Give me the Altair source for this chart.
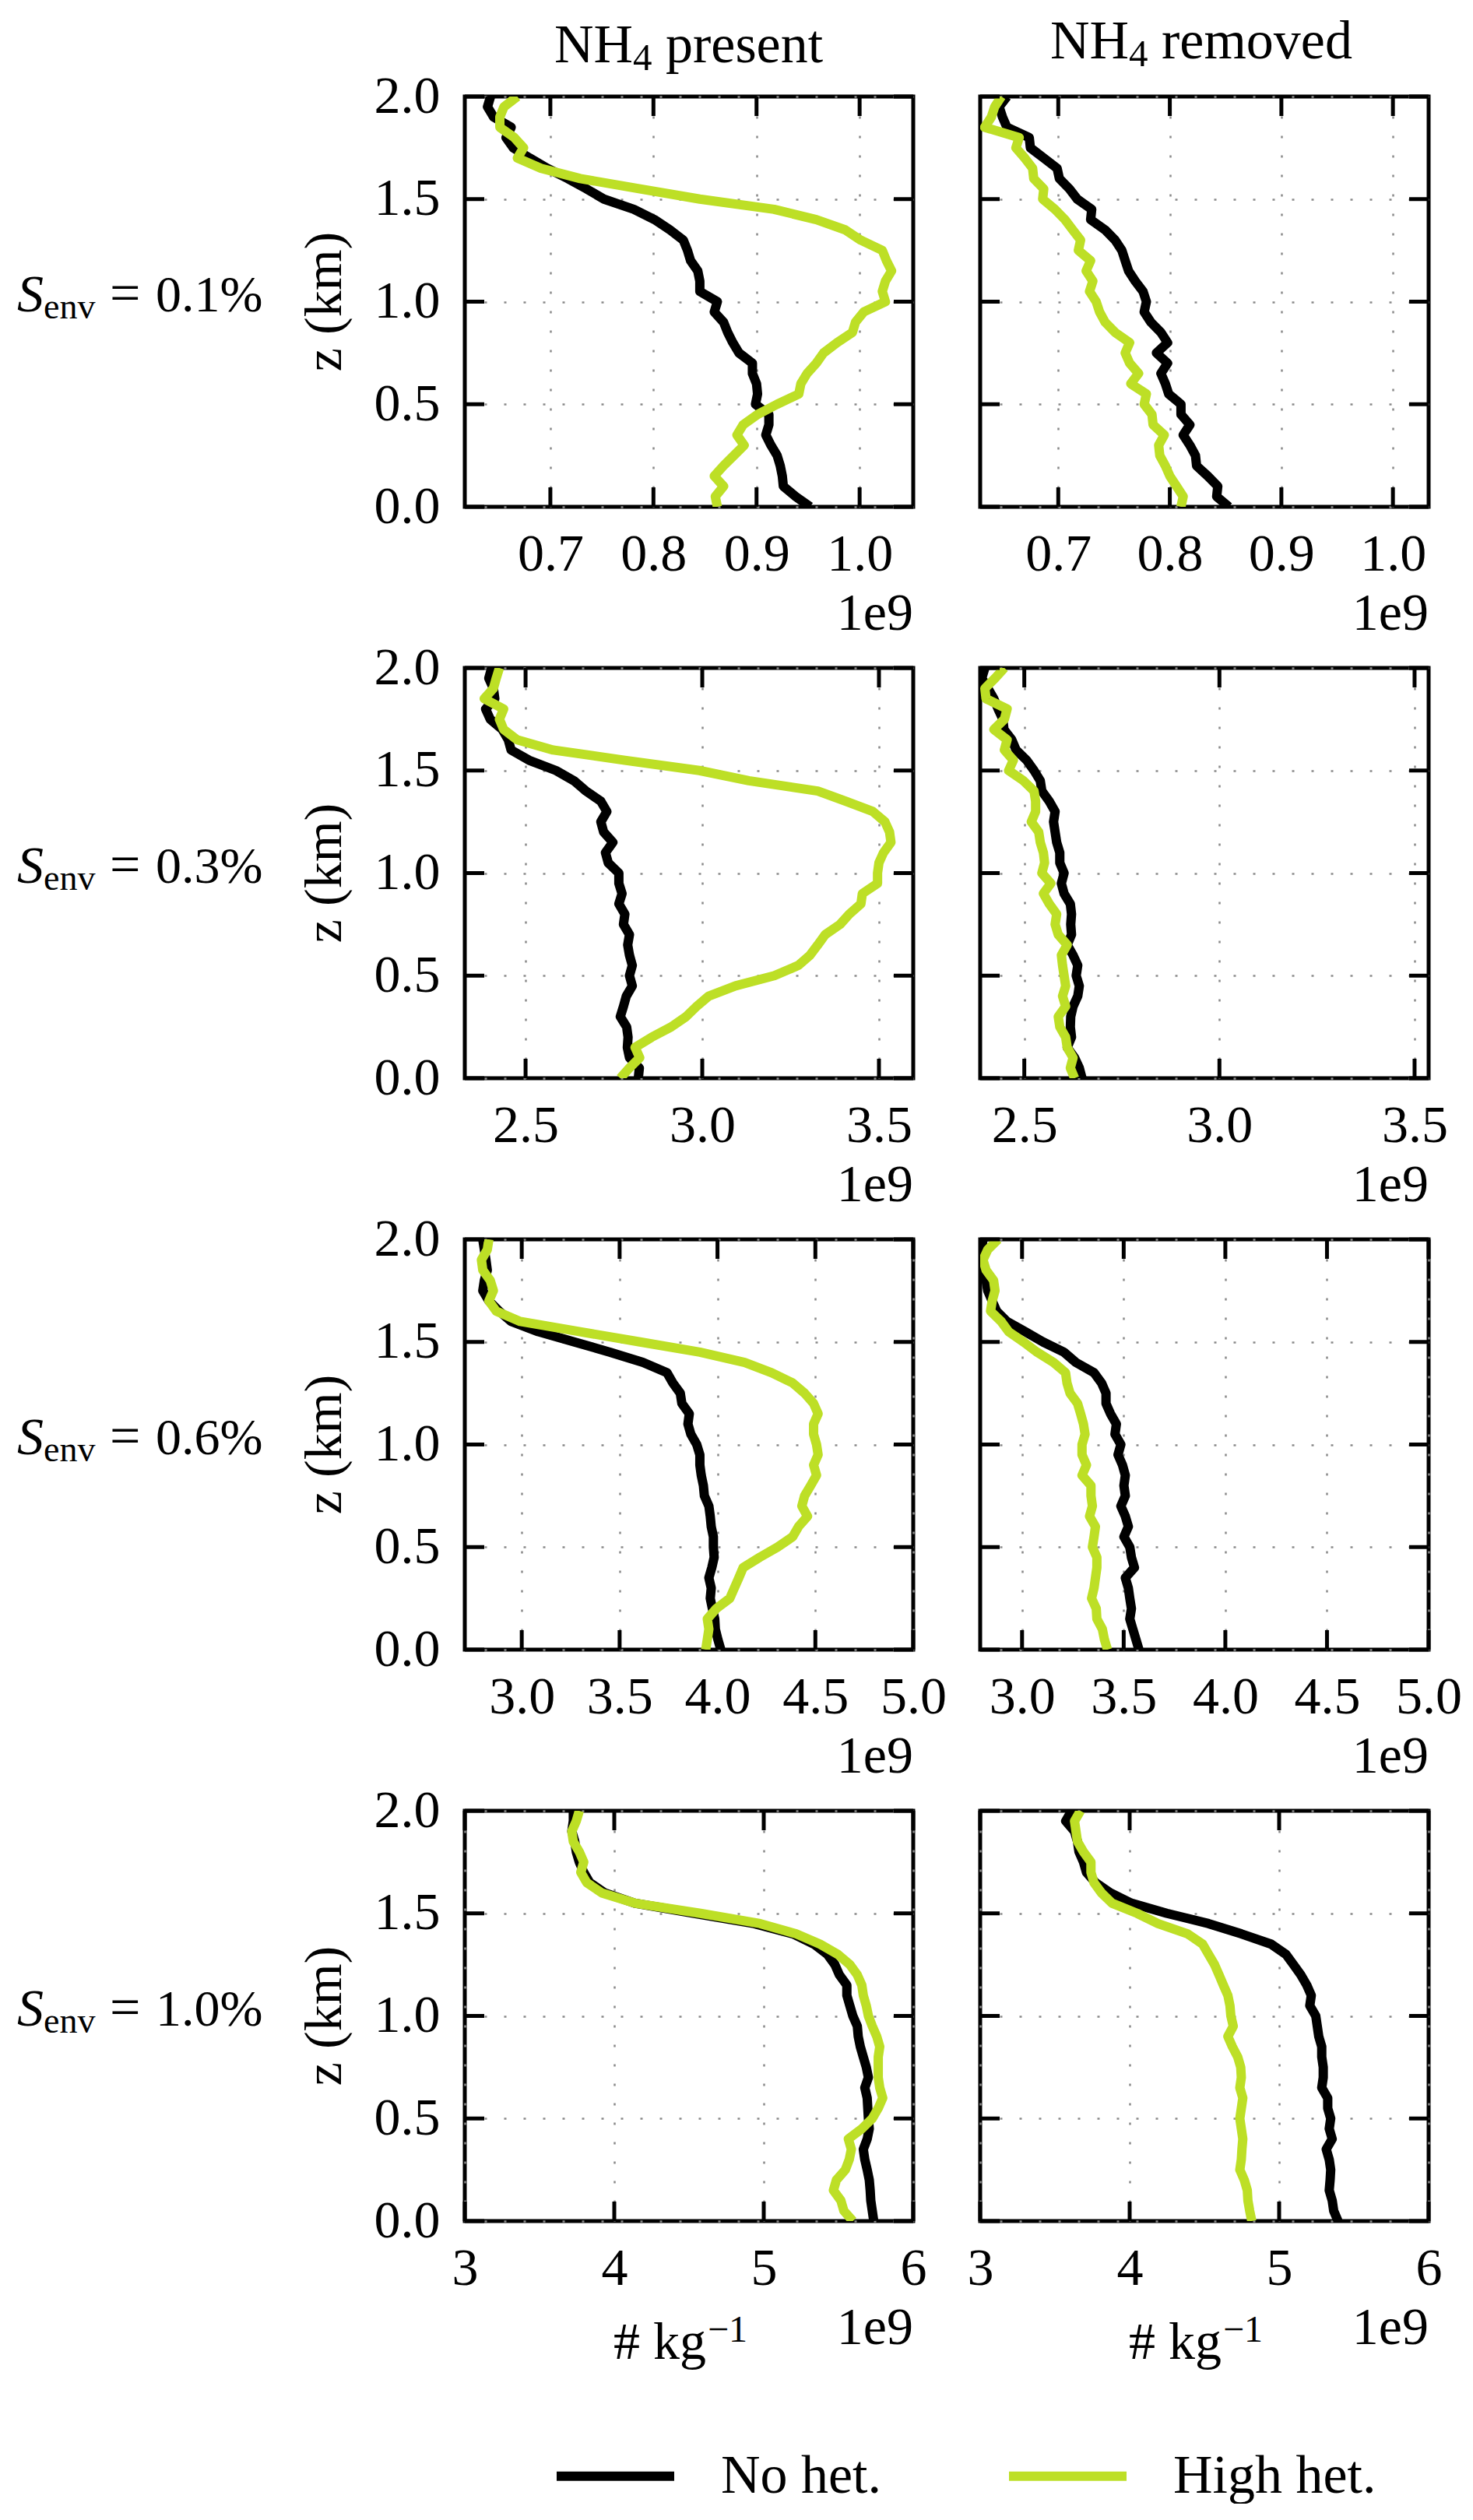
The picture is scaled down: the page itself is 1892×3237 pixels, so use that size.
import altair as alt
import pandas as pd

FONT = "Liberation Serif"
BLACK = "#000000"
GREEN = "#bddf26"
GRID_COLOR = "#8a8a8a"

# model levels (km)
Z = [0.00, 0.05, 0.10, 0.15, 0.20, 0.25, 0.30, 0.35, 0.40, 0.45,
     0.50, 0.55, 0.60, 0.65, 0.70, 0.75, 0.80, 0.85, 0.90, 0.95,
     1.00, 1.05, 1.10, 1.15, 1.20, 1.25, 1.30, 1.35, 1.40, 1.45,
     1.50, 1.55, 1.60, 1.65, 1.70, 1.75, 1.80, 1.85, 1.90, 1.95, 2.00]

# number concentration profiles (units of 1e9 # kg-1), bottom to top
R1P_NO = [0.952, 0.938, 0.926, 0.925, 0.923, 0.920, 0.914, 0.909, 0.912, 0.912,
          0.899, 0.901, 0.900, 0.896, 0.896, 0.883, 0.877, 0.872, 0.868, 0.859,
          0.862, 0.845, 0.845, 0.843, 0.836, 0.833, 0.829, 0.816, 0.801, 0.781,
          0.752, 0.735, 0.717, 0.697, 0.680, 0.664, 0.657, 0.662, 0.645, 0.639, 0.642]
R1P_HIGH = [0.862, 0.860, 0.868, 0.859, 0.868, 0.878, 0.888, 0.881, 0.887, 0.901,
            0.920, 0.941, 0.943, 0.949, 0.958, 0.965, 0.978, 0.993, 0.996, 1.004,
            1.025, 1.022, 1.025, 1.031, 1.026, 1.022, 1.001, 0.986, 0.958, 0.917,
            0.845, 0.787, 0.729, 0.691, 0.668, 0.674, 0.665, 0.651, 0.651, 0.655, 0.668]
R1R_NO = [0.853, 0.842, 0.843, 0.834, 0.824, 0.823, 0.818, 0.812, 0.818, 0.810,
          0.810, 0.799, 0.796, 0.792, 0.798, 0.788, 0.798, 0.792, 0.783, 0.777,
          0.779, 0.776, 0.769, 0.763, 0.760, 0.757, 0.751, 0.742, 0.729, 0.730,
          0.717, 0.710, 0.701, 0.699, 0.687, 0.675, 0.674, 0.654, 0.650, 0.647, 0.654]
R1R_HIGH = [0.810, 0.812, 0.806, 0.800, 0.796, 0.791, 0.790, 0.795, 0.785, 0.784,
            0.777, 0.779, 0.765, 0.772, 0.764, 0.760, 0.764, 0.751, 0.742, 0.737,
            0.734, 0.728, 0.731, 0.725, 0.729, 0.718, 0.720, 0.713, 0.706, 0.697,
            0.686, 0.687, 0.678, 0.677, 0.670, 0.662, 0.665, 0.634, 0.640, 0.643, 0.649]

R2P_NO = [2.819, 2.822, 2.794, 2.788, 2.790, 2.786, 2.768, 2.777, 2.785, 2.802,
          2.794, 2.802, 2.794, 2.789, 2.794, 2.777, 2.781, 2.764, 2.773, 2.764,
          2.764, 2.734, 2.726, 2.747, 2.721, 2.713, 2.730, 2.713, 2.671, 2.637,
          2.586, 2.510, 2.459, 2.451, 2.434, 2.400, 2.387, 2.413, 2.409, 2.396, 2.404]
R2P_HIGH = [2.768, 2.794, 2.823, 2.810, 2.857, 2.912, 2.954, 2.984, 3.018, 3.094,
            3.204, 3.272, 3.305, 3.327, 3.348, 3.390, 3.416, 3.449, 3.453, 3.496,
            3.496, 3.500, 3.513, 3.534, 3.530, 3.517, 3.483, 3.407, 3.327, 3.132,
            2.992, 2.781, 2.578, 2.476, 2.438, 2.426, 2.438, 2.383, 2.409, 2.417, 2.426]
R2R_NO = [2.648, 2.641, 2.629, 2.610, 2.621, 2.618, 2.619, 2.625, 2.637, 2.641,
          2.633, 2.637, 2.625, 2.610, 2.621, 2.619, 2.621, 2.618, 2.602, 2.595,
          2.602, 2.591, 2.591, 2.583, 2.579, 2.575, 2.579, 2.564, 2.545, 2.541,
          2.525, 2.506, 2.479, 2.468, 2.448, 2.445, 2.433, 2.422, 2.407, 2.391, 2.399]
R2R_HIGH = [2.629, 2.618, 2.625, 2.610, 2.606, 2.591, 2.587, 2.606, 2.598, 2.606,
            2.602, 2.598, 2.595, 2.610, 2.587, 2.579, 2.583, 2.564, 2.549, 2.568,
            2.545, 2.552, 2.549, 2.541, 2.537, 2.518, 2.529, 2.529, 2.525, 2.498,
            2.460, 2.472, 2.449, 2.456, 2.422, 2.449, 2.456, 2.402, 2.399, 2.425, 2.449]

R3P_NO = [4.017, 4.002, 3.989, 3.986, 3.974, 3.963, 3.968, 3.956, 3.971, 3.983,
          3.979, 3.979, 3.968, 3.963, 3.956, 3.933, 3.928, 3.917, 3.910, 3.910,
          3.894, 3.864, 3.849, 3.856, 3.818, 3.810, 3.772, 3.742, 3.619, 3.451,
          3.268, 3.084, 2.946, 2.885, 2.832, 2.801, 2.809, 2.824, 2.817, 2.809, 2.801]
R3P_HIGH = [3.940, 3.948, 3.956, 3.948, 3.994, 4.063, 4.086, 4.109, 4.131, 4.216,
            4.307, 4.384, 4.414, 4.460, 4.431, 4.445, 4.476, 4.506, 4.491, 4.514,
            4.506, 4.491, 4.491, 4.514, 4.491, 4.445, 4.384, 4.277, 4.139, 3.910,
            3.604, 3.298, 2.992, 2.870, 2.832, 2.855, 2.839, 2.801, 2.794, 2.824, 2.832]
R3R_NO = [3.575, 3.560, 3.545, 3.530, 3.538, 3.530, 3.523, 3.508, 3.553, 3.538,
          3.530, 3.501, 3.523, 3.508, 3.486, 3.508, 3.501, 3.508, 3.494, 3.472,
          3.486, 3.457, 3.464, 3.435, 3.413, 3.413, 3.391, 3.354, 3.265, 3.206,
          3.103, 3.015, 2.926, 2.875, 2.853, 2.831, 2.823, 2.816, 2.801, 2.801, 2.808]
R3R_HIGH = [3.420, 3.405, 3.395, 3.368, 3.365, 3.342, 3.354, 3.361, 3.368, 3.368,
            3.346, 3.354, 3.361, 3.332, 3.346, 3.339, 3.339, 3.295, 3.317, 3.295,
            3.295, 3.310, 3.302, 3.288, 3.273, 3.236, 3.221, 3.214, 3.155, 3.074,
            3.007, 2.934, 2.897, 2.845, 2.853, 2.867, 2.860, 2.823, 2.808, 2.831, 2.882]

R4P_NO = [5.736, 5.726, 5.716, 5.712, 5.706, 5.692, 5.676, 5.666, 5.692, 5.706,
          5.700, 5.696, 5.692, 5.676, 5.700, 5.686, 5.666, 5.646, 5.632, 5.626,
          5.596, 5.576, 5.556, 5.556, 5.506, 5.476, 5.426, 5.336, 5.196, 4.936,
          4.536, 4.136, 3.936, 3.836, 3.796, 3.766, 3.746, 3.736, 3.716, 3.726, 3.726]
R4P_HIGH = [5.596, 5.536, 5.516, 5.466, 5.486, 5.546, 5.572, 5.586, 5.566, 5.656,
            5.726, 5.766, 5.796, 5.776, 5.766, 5.766, 5.766, 5.776, 5.756, 5.726,
            5.700, 5.686, 5.666, 5.656, 5.626, 5.576, 5.496, 5.376, 5.216, 4.976,
            4.576, 4.136, 3.916, 3.816, 3.776, 3.796, 3.766, 3.726, 3.716, 3.746, 3.766]
R4R_NO = [5.394, 5.365, 5.355, 5.335, 5.341, 5.345, 5.335, 5.315, 5.355, 5.335,
          5.345, 5.325, 5.325, 5.285, 5.295, 5.295, 5.285, 5.285, 5.265, 5.255,
          5.245, 5.205, 5.215, 5.185, 5.145, 5.096, 5.046, 4.946, 4.747, 4.528,
          4.249, 4.010, 3.871, 3.771, 3.711, 3.691, 3.661, 3.651, 3.631, 3.572, 3.612]
R4R_HIGH = [4.817, 4.803, 4.791, 4.787, 4.767, 4.737, 4.747, 4.751, 4.757, 4.747,
            4.737, 4.747, 4.757, 4.737, 4.747, 4.743, 4.723, 4.687, 4.657, 4.693,
            4.677, 4.671, 4.657, 4.627, 4.598, 4.568, 4.528, 4.488, 4.388, 4.189,
            4.050, 3.881, 3.811, 3.761, 3.741, 3.741, 3.691, 3.651, 3.641, 3.631, 3.671]

PROFILES = [
    [(R1P_NO, R1P_HIGH), (R1R_NO, R1R_HIGH)],
    [(R2P_NO, R2P_HIGH), (R2R_NO, R2R_HIGH)],
    [(R3P_NO, R3P_HIGH), (R3R_NO, R3R_HIGH)],
    [(R4P_NO, R4P_HIGH), (R4R_NO, R4R_HIGH)],
]

SERIES = ["No het.", "High het."]
ROW_VALUES = ["=", "0.1%", "0.3%", "0.6%", "1.0%"]
ROW_SYMBOL = ["S", "env"]
COL_HEAD = ["NH", "4"]
COL_WORDS = ["present", "removed"]
Y_TITLE = "z (km)"
X_TITLE = ["# kg", "\u22121"]
OFFSET_TEXT = "1e9"

X_TICKS = [[0.7, 0.8, 0.9, 1.0], [2.5, 3.0, 3.5], [3.0, 3.5, 4.0, 4.5, 5.0], [3, 4, 5, 6]]
X_FORMATS = [".1f", ".1f", ".1f", "d"]
X_DOMAINS = [
    [[0.617, 1.052], [0.630, 1.032]],
    [[2.328, 3.597], [2.387, 3.536]],
    [[2.709, 5.0], [2.794, 5.0]],
    [[3.0, 6.0], [3.0, 6.0]],
]
Y_TICKS = [0.0, 0.5, 1.0, 1.5, 2.0]

W, H = 576, 527
TICK = 25
TICK_W = 5
LINE_W = 12


def text_layer(text, x, y, size, align="left", baseline="alphabetic", style="normal", angle=0):
    return alt.Chart(pd.DataFrame({"t": [text]})).mark_text(
        align=align, baseline=baseline, font=FONT, fontSize=size,
        fontStyle=style, angle=angle, color="black"
    ).encode(text="t:N", x=alt.value(x), y=alt.value(y))


def panel(r, c):
    no, hi = PROFILES[r][c]
    df = pd.DataFrame({
        "z": Z + Z,
        "n": no + hi,
        "series": [SERIES[0]] * len(Z) + [SERIES[1]] * len(Z),
    })
    xscale = alt.Scale(domain=X_DOMAINS[r][c], nice=False, zero=False)
    yscale = alt.Scale(domain=[0, 2], nice=False, zero=False)
    xaxis = alt.Axis(values=X_TICKS[r], format=X_FORMATS[r], grid=True,
                     gridDash=[3, 22], gridColor=GRID_COLOR, gridWidth=2.5,
                     ticks=False, tickSize=0, domain=False, labelFont=FONT,
                     labelFontSize=68, labelPadding=27, labelFlush=False,
                     labelOverlap=False, labelColor="black", title=None)
    yaxis = alt.Axis(values=Y_TICKS, format=".1f", grid=True,
                     gridDash=[3, 22], gridColor=GRID_COLOR, gridWidth=2.5,
                     ticks=False, tickSize=0, domain=False, labels=(c == 0),
                     labelFont=FONT, labelFontSize=68, labelPadding=32,
                     labelFlush=False, labelOverlap=False, labelColor="black",
                     title=None)
    color = alt.Color("series:N", scale=alt.Scale(domain=SERIES, range=[BLACK, GREEN]),
                      legend=alt.Legend(orient="none", legendX=112, legendY=2975,
                                        direction="horizontal", title=None,
                                        symbolType="stroke", symbolStrokeWidth=12,
                                        symbolSize=151 * 151, labelFont=FONT,
                                        labelFontSize=70, labelOffset=54,
                                        columnPadding=139, padding=0,
                                        labelColor="black", labelLimit=0))
    base = alt.Chart(df)
    layers = []
    for s in SERIES:
        layers.append(
            base.transform_filter(alt.datum.series == s)
            .mark_line(strokeWidth=LINE_W, strokeJoin="round", clip=True)
            .encode(x=alt.X("n:Q", scale=xscale, axis=xaxis),
                    y=alt.Y("z:Q", scale=yscale, axis=yaxis),
                    color=color, order=alt.Order("z:Q"))
        )
    xt = alt.Chart(pd.DataFrame({"n": X_TICKS[r]}))
    yt = alt.Chart(pd.DataFrame({"z": Y_TICKS}))
    layers.append(xt.mark_rule(color="black", strokeWidth=TICK_W).encode(
        x=alt.X("n:Q", scale=xscale), y=alt.value(0), y2=alt.value(TICK)))
    layers.append(xt.mark_rule(color="black", strokeWidth=TICK_W).encode(
        x=alt.X("n:Q", scale=xscale), y=alt.value(H), y2=alt.value(H - TICK)))
    layers.append(yt.mark_rule(color="black", strokeWidth=TICK_W).encode(
        y=alt.Y("z:Q", scale=yscale), x=alt.value(0), x2=alt.value(TICK)))
    layers.append(yt.mark_rule(color="black", strokeWidth=TICK_W).encode(
        y=alt.Y("z:Q", scale=yscale), x=alt.value(W), x2=alt.value(W - TICK)))

    # offset text
    layers.append(text_layer(OFFSET_TEXT, W, H + 158, 68, align="right"))

    if c == 0:
        yc = H / 2
        layers.append(text_layer(ROW_SYMBOL[0], -575, yc + 12, 68, style="italic"))
        layers.append(text_layer(ROW_SYMBOL[1], -541, yc + 21, 46))
        layers.append(text_layer(ROW_VALUES[0], -456, yc + 12, 70))
        layers.append(text_layer(ROW_VALUES[r + 1], -397, yc + 12, 66))
        layers.append(text_layer(Y_TITLE, -179, yc, 68, align="center",
                                 baseline="middle", angle=270))
    if r == 0:
        if c == 0:
            x0, base_y = 115, -44
        else:
            x0, base_y = 90, -49
        layers.append(text_layer(COL_HEAD[0], x0 + 101, base_y, 70, align="right"))
        layers.append(text_layer(COL_HEAD[1], x0 + 101, base_y + 10, 49))
        layers.append(text_layer(COL_WORDS[c], x0 + 143, base_y, 70))
        if c == 0:
            anchor = alt.Chart(pd.DataFrame({"a": [0]})).mark_point(
                opacity=0.01, size=1, filled=True, color="white").encode(
                x=alt.value(-586), y=alt.value(-113))
            layers.append(anchor)
    if r == 3:
        x0 = 191
        layers.append(text_layer(X_TITLE[0], x0, H + 177, 68))
        layers.append(text_layer(X_TITLE[1], x0 + 121, H + 155, 48))

    return alt.layer(*layers).properties(width=W, height=H)


panels = [panel(r, c) for r in range(4) for c in range(2)]

chart = alt.ConcatChart(
    concat=panels, columns=2, spacing={"row": 207, "column": 86},
    bounds="flush", padding=0,
).configure(font=FONT).configure_view(stroke="black", strokeWidth=5)

chart.save("out.html", embed_options={"renderer": "svg", "actions": False})
